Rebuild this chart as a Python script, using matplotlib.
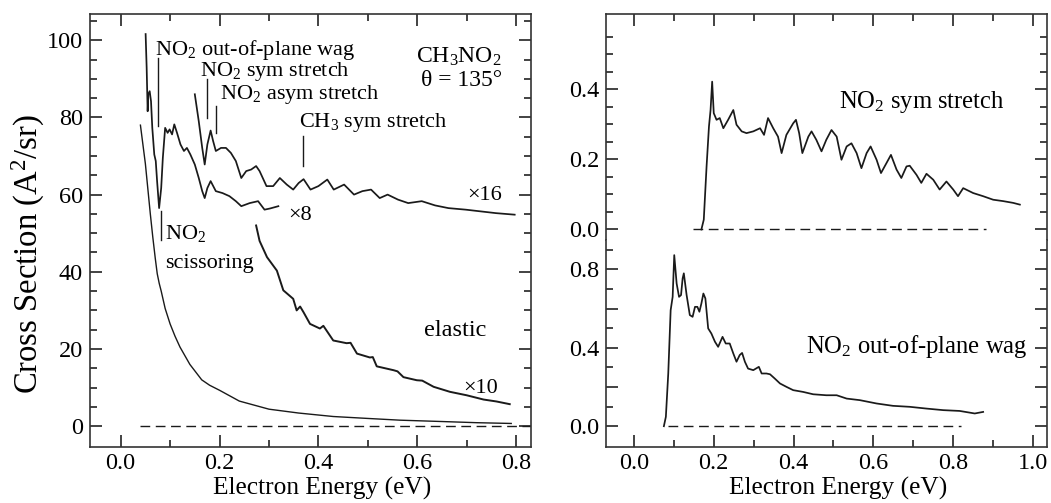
import numpy as np
import matplotlib
matplotlib.use("Agg")
import matplotlib.pyplot as plt
from matplotlib.ticker import FixedLocator, FuncFormatter

# ---------------- data ----------------
elastic_x = [0.040, 0.045, 0.050, 0.055, 0.060, 0.065, 0.070, 0.074, 0.078, 0.082, 0.090, 0.100,
             0.110, 0.120, 0.140, 0.164, 0.180, 0.200, 0.240, 0.300, 0.360, 0.430, 0.500,
             0.565, 0.650, 0.720, 0.790]
elastic_y = [78, 73, 68, 61.5, 55, 49, 43.5, 39.5, 37, 35, 30.5, 26.5,
             23.3, 20.5, 16.0, 12.0, 10.6, 9.3, 6.5, 4.4, 3.4, 2.5, 2.0,
             1.55, 1.2, 0.9, 0.7]

elastic10_x = [0.274, 0.281, 0.296, 0.316, 0.329, 0.349, 0.356, 0.363, 0.370, 0.383, 0.403, 0.410,
               0.430, 0.457, 0.465, 0.478, 0.504, 0.510, 0.518, 0.552, 0.560, 0.572, 0.599, 0.610,
               0.633, 0.666, 0.700, 0.734, 0.760, 0.787]
elastic10_y = [52, 48, 43.8, 40.3, 35.2, 33.0, 30.0, 31.0, 29.5, 26.5, 25.3, 26.0,
               22.2, 21.5, 21.6, 18.8, 17.8, 17.9, 15.5, 14.5, 14.2, 12.7, 11.9, 11.8,
               10.2, 8.9, 8.0, 6.9, 6.4, 5.7]

x8_x = [0.0505, 0.0526, 0.0546, 0.0560, 0.0587, 0.0614, 0.064, 0.068, 0.071, 0.0737, 0.0778,
        0.082, 0.0853, 0.090, 0.095, 0.099, 0.104, 0.1085, 0.114, 0.121, 0.128, 0.134, 0.141,
        0.150, 0.158, 0.165, 0.170, 0.1754, 0.182, 0.1925, 0.206, 0.220, 0.233, 0.244, 0.261,
        0.278, 0.291, 0.302, 0.319]
x8_y = [101.6, 92.9, 81.6, 86.0, 86.8, 84.2, 77.3, 70.4, 68.7, 63.5, 56.5,
        61.7, 69.5, 77.3, 76.0, 76.9, 75.6, 78.2, 76.0, 73.0, 71.3, 72.1, 70.4,
        67.8, 64.3, 60.9, 59.1, 61.7, 63.5, 60.9, 60.4, 59.6, 58.3, 57.0, 57.8,
        58.3, 56.1, 56.4, 57.0]

x16_x = [0.150, 0.158, 0.165, 0.170, 0.1754, 0.182, 0.187, 0.1925, 0.203, 0.213, 0.223, 0.233,
         0.244, 0.254, 0.264, 0.274, 0.281, 0.295, 0.3085, 0.322, 0.336, 0.349, 0.360, 0.370,
         0.384, 0.400, 0.418, 0.431, 0.452, 0.472, 0.489, 0.5065, 0.524, 0.540, 0.561, 0.5816,
         0.609, 0.636, 0.663, 0.698, 0.725, 0.759, 0.797]
x16_y = [86.0, 79.0, 72.1, 67.8, 73.0, 76.6, 73.9, 71.3, 72.1, 72.1, 70.8, 68.7,
         64.3, 66.1, 66.5, 67.4, 66.1, 62.2, 62.2, 64.3, 62.6, 61.3, 63.0, 64.0,
         61.3, 62.2, 63.9, 61.3, 62.6, 60.0, 60.9, 61.3, 59.1, 60.0, 58.7, 57.8,
         58.3, 57.2, 56.5, 56.1, 55.7, 55.2, 54.8]

sym_x = [0.169, 0.175, 0.182, 0.188, 0.192, 0.196, 0.200, 0.207, 0.215, 0.224, 0.236, 0.249,
         0.257, 0.270, 0.282, 0.299, 0.316, 0.326, 0.336, 0.349, 0.361, 0.370, 0.382, 0.399,
         0.406, 0.414, 0.422, 0.437, 0.445, 0.457, 0.470, 0.482, 0.495, 0.508, 0.520, 0.533,
         0.545, 0.558, 0.570, 0.583, 0.593, 0.608, 0.619, 0.633, 0.644, 0.658, 0.670, 0.683,
         0.691, 0.708, 0.720, 0.733, 0.750, 0.766, 0.783, 0.800, 0.812, 0.825, 0.850, 0.875,
         0.900, 0.925, 0.950, 0.967]
sym_y = [0.0, 0.028, 0.18, 0.294, 0.341, 0.422, 0.332, 0.313, 0.318, 0.289, 0.313, 0.341,
         0.299, 0.280, 0.275, 0.280, 0.289, 0.270, 0.318, 0.289, 0.265, 0.218, 0.270, 0.303,
         0.313, 0.275, 0.218, 0.265, 0.280, 0.256, 0.223, 0.256, 0.284, 0.265, 0.199, 0.237,
         0.246, 0.218, 0.175, 0.218, 0.237, 0.199, 0.161, 0.190, 0.213, 0.171, 0.147, 0.180,
         0.182, 0.156, 0.133, 0.159, 0.142, 0.114, 0.137, 0.114, 0.095, 0.118, 0.104, 0.095,
         0.085, 0.081, 0.076, 0.071]

wag_x = [0.075, 0.080, 0.086, 0.092, 0.097, 0.101, 0.107, 0.113, 0.118, 0.122, 0.125, 0.132,
         0.140, 0.147, 0.153, 0.159, 0.164, 0.169, 0.174, 0.179, 0.186, 0.194, 0.203, 0.211,
         0.222, 0.230, 0.240, 0.249, 0.257, 0.265, 0.271, 0.278, 0.286, 0.299, 0.313, 0.320,
         0.332, 0.341, 0.353, 0.366, 0.382, 0.399, 0.424, 0.449, 0.482, 0.508, 0.533, 0.566,
         0.608, 0.649, 0.691, 0.733, 0.775, 0.816, 0.854, 0.875]
wag_y = [0.0, 0.048, 0.269, 0.592, 0.660, 0.873, 0.728, 0.660, 0.669, 0.754, 0.780, 0.669,
         0.567, 0.558, 0.609, 0.609, 0.584, 0.626, 0.677, 0.652, 0.499, 0.473, 0.431, 0.405,
         0.456, 0.422, 0.422, 0.371, 0.329, 0.363, 0.374, 0.329, 0.294, 0.286, 0.303, 0.269,
         0.269, 0.265, 0.243, 0.218, 0.201, 0.184, 0.175, 0.163, 0.158, 0.158, 0.141, 0.133,
         0.116, 0.104, 0.099, 0.090, 0.082, 0.078, 0.065, 0.073]

left_zero_x = [0.040, 0.83]
sym_zero_x = [0.149, 0.883]
wag_zero_x = [0.085, 0.820]

# ---------------- style ----------------
plt.rcParams['font.family'] = ['Liberation Serif', 'DejaVu Serif']
plt.rcParams['mathtext.fontset'] = 'custom'
plt.rcParams['mathtext.rm'] = 'Liberation Serif'
plt.rcParams['mathtext.it'] = 'Liberation Serif:italic'
plt.rcParams['mathtext.bf'] = 'Liberation Serif:bold'

INK = '#1a1a1a'
TICK_FS = 17.5
XLAB_FS = 18.3
YLAB_FS = 23.5
ANN_FS = 16
ANN2_FS = 17.7

fig = plt.figure(figsize=(10.51, 5.03), dpi=100)
W, H = 1051, 503
ax = fig.add_axes([90 / W, 56 / H, 441 / W, 433 / H])
axt = fig.add_axes([606 / W, 263 / H, 441 / W, 226 / H])
axb = fig.add_axes([606 / W, 56 / H, 441 / W, 207 / H])

for a in (ax, axt, axb):
    for s in a.spines.values():
        s.set_linewidth(1.2)
        s.set_color('#333333')
    a.tick_params(which='both', direction='in', color='#222222', width=1.2,
                  labelsize=TICK_FS, top=True, right=True)
    a.tick_params(which='major', length=8.5, pad=5)
    a.tick_params(which='minor', length=5)
    a.tick_params(axis='x', which='major', pad=4.5)

dash = (0, (7, 4))

# ---------------- left panel ----------------
ax.plot(elastic_x, elastic_y, color=INK, lw=1.0)
ax.plot(elastic10_x, elastic10_y, color=INK, lw=1.4)
ax.plot(x8_x, x8_y, color=INK, lw=1.25)
ax.plot(x16_x, x16_y, color=INK, lw=1.25)
ax.plot(left_zero_x, [0, 0], color=INK, lw=1.0, ls=dash)
ax.set_xlim(-0.062, 0.83)
ax.set_ylim(-5.4, 106.8)
ax.xaxis.set_major_locator(FixedLocator([0.0, 0.2, 0.4, 0.6, 0.8]))
ax.xaxis.set_minor_locator(FixedLocator([0.1, 0.3, 0.5, 0.7]))
ax.xaxis.set_major_formatter(FuncFormatter(lambda v, p: f"{v:.1f}"))
ax.yaxis.set_major_locator(FixedLocator([0, 20, 40, 60, 80, 100]))
ax.yaxis.set_minor_locator(FixedLocator([v for v in range(5, 106, 5) if v % 20]))
ax.set_xlabel('Electron Energy (eV)', fontsize=XLAB_FS)
ax.xaxis.set_label_coords(0.526, -0.0685)
ax.set_ylabel('Cross Section (A$^2$/sr)', fontsize=YLAB_FS)
ax.yaxis.set_label_coords(-0.097, 0.446)

# mode markers
ax.plot([0.075, 0.075], [95.5, 77.7], color=INK, lw=1.0)
ax.plot([0.174, 0.174], [89.9, 79.9], color=INK, lw=1.0)
ax.plot([0.193, 0.193], [83.0, 76.0], color=INK, lw=1.0)
ax.plot([0.368, 0.368], [75.2, 67.4], color=INK, lw=1.0)
ax.plot([0.082, 0.082], [55.7, 48.3], color=INK, lw=1.0)

ax.text(0.069, 97.6, 'NO$_2$ out-of-plane wag', fontsize=ANN_FS, va='center', ha='left')
ax.text(0.160, 91.8, 'NO$_2$ sym stretch', fontsize=ANN_FS, va='center', ha='left')
ax.text(0.201, 85.9, 'NO$_2$ asym stretch', fontsize=ANN_FS, va='center', ha='left')
ax.text(0.360, 78.8, 'CH$_3$ sym stretch', fontsize=ANN_FS, va='center', ha='left')
ax.text(0.090, 49.8, 'NO$_2$', fontsize=ANN_FS, va='center', ha='left')
ax.text(0.090, 42.2, 'scissoring', fontsize=ANN_FS, va='center', ha='left')
ax.text(0.771, 95.8, 'CH$_3$NO$_2$', fontsize=17, va='center', ha='right')
ax.text(0.771, 89.6, 'θ = 135°', fontsize=17, va='center', ha='right')
ax.text(0.771, 59.8, '×16', fontsize=ANN_FS, va='center', ha='right')
ax.text(0.338, 54.6, '×8', fontsize=ANN_FS, va='center', ha='left')
ax.text(0.676, 24.8, 'elastic', fontsize=17.5, va='center', ha='center')
ax.text(0.764, 9.8, '×10', fontsize=ANN_FS, va='center', ha='right')

# ---------------- right top panel ----------------
axt.plot(sym_x, sym_y, color=INK, lw=1.25)
axt.plot(sym_zero_x, [0, 0], color=INK, lw=1.0, ls=dash)
axt.set_xlim(-0.07, 1.035)
axt.set_ylim(-0.03, 0.615)
axt.spines['bottom'].set_visible(False)
axt.tick_params(axis='x', which='both', bottom=False, labelbottom=False)
axt.xaxis.set_major_locator(FixedLocator([0.0, 0.2, 0.4, 0.6, 0.8, 1.0]))
axt.xaxis.set_minor_locator(FixedLocator([0.1, 0.3, 0.5, 0.7, 0.9]))
axt.yaxis.set_major_locator(FixedLocator([0.0, 0.2, 0.4]))
axt.yaxis.set_minor_locator(FixedLocator([0.05, 0.1, 0.15, 0.25, 0.3, 0.35, 0.45, 0.5, 0.55]))
axt.yaxis.set_major_formatter(FuncFormatter(lambda v, p: f"{v:.1f}"))
axt.text(0.514, 0.365, 'NO$_2$ sym stretch', fontsize=ANN2_FS, va='center', ha='left')

# ---------------- right bottom panel ----------------
axb.plot(wag_x, wag_y, color=INK, lw=1.25)
axb.plot(wag_zero_x, [0, 0], color=INK, lw=1.0, ls=dash)
axb.set_xlim(-0.07, 1.035)
axb.set_ylim(-0.106, 0.95)
axb.spines['top'].set_visible(False)
axb.tick_params(axis='x', which='both', top=False)
axb.xaxis.set_major_locator(FixedLocator([0.0, 0.2, 0.4, 0.6, 0.8, 1.0]))
axb.xaxis.set_minor_locator(FixedLocator([0.1, 0.3, 0.5, 0.7, 0.9]))
axb.xaxis.set_major_formatter(FuncFormatter(lambda v, p: f"{v:.1f}"))
axb.yaxis.set_major_locator(FixedLocator([0.0, 0.2, 0.4, 0.6, 0.8]))
axb.yaxis.set_minor_locator(FixedLocator([0.1, 0.3, 0.5, 0.7, 0.9]))
axb.yaxis.set_major_formatter(FuncFormatter(
    lambda v, p: f"{v:.1f}" if abs(round(v / 0.4) * 0.4 - v) < 1e-6 else ""))
axb.set_xlabel('Electron Energy (eV)', fontsize=XLAB_FS)
axb.xaxis.set_label_coords(0.526, -0.1435)
axb.text(0.432, 0.405, 'NO$_2$ out-of-plane wag', fontsize=ANN2_FS, va='center', ha='left')

fig.savefig('out.png', dpi=100)
